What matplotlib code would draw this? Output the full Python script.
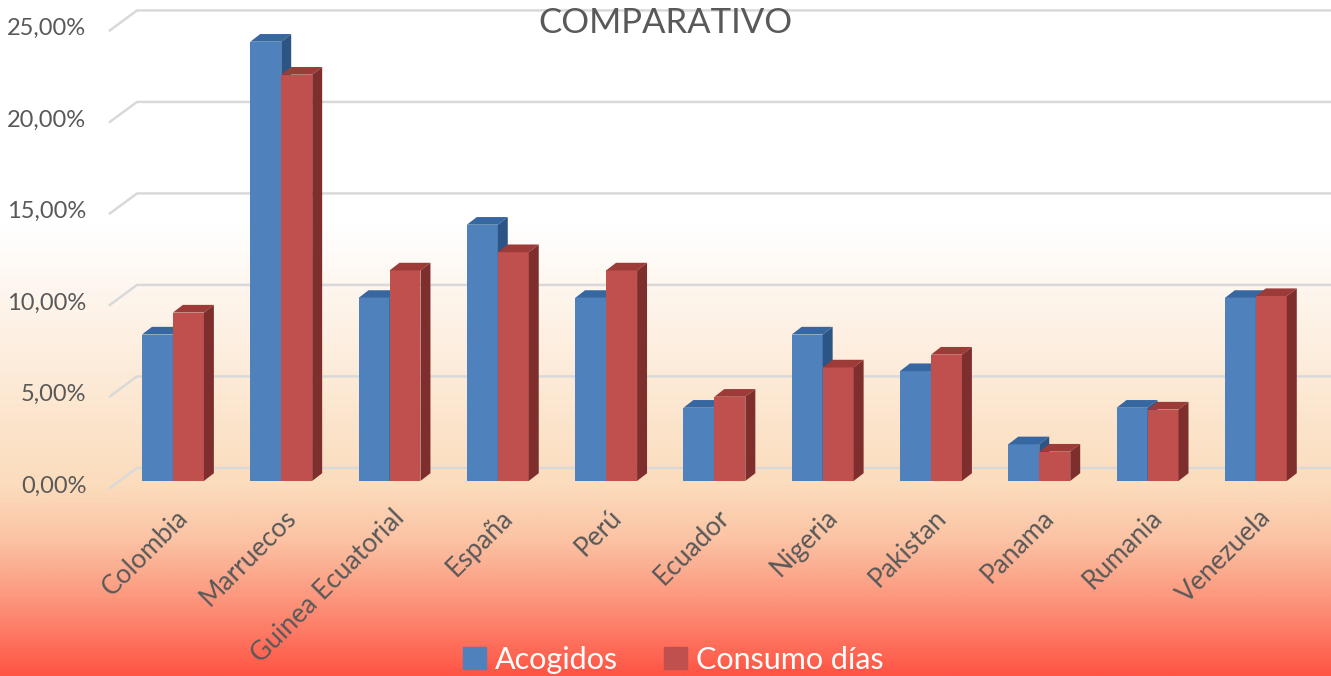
import numpy as np
import matplotlib.pyplot as plt
from matplotlib.patches import Polygon, Patch
from matplotlib.colors import LinearSegmentedColormap

paises = ['Colombia', 'Marruecos', 'Guinea Ecuatorial', 'España', 'Perú', 'Ecuador',
          'Nigeria', 'Pakistan', 'Panama', 'Rumania', 'Venezuela']
acogidos = [8.0, 24.0, 10.0, 14.0, 10.0, 4.0, 8.0, 6.0, 2.0, 4.0, 10.0]
consumo = [9.2, 22.2, 11.5, 12.5, 11.5, 4.6, 6.2, 6.9, 1.6, 3.9, 10.1]
yticks = [0, 5, 10, 15, 20, 25]
ylabels = ['0,00%', '5,00%', '10,00%', '15,00%', '20,00%', '25,00%']
series = ['Acogidos', 'Consumo días']

plt.rcParams['font.family'] = ['Lato', 'DejaVu Sans']
txt = '#595959'

fig = plt.figure(figsize=(13.31, 6.76), dpi=100)

# fondo degradado
bg = fig.add_axes([0, 0, 1, 1])
bg.axis('off')
cmap = LinearSegmentedColormap.from_list('bg', [
    (0.0, '#ffffff'), (0.33, '#ffffff'), (0.72, '#fbdcbc'),
    (0.80, '#fbc3a4'), (0.90, '#fd9077'), (1.0, '#ff5545')])
grad = np.linspace(0, 1, 400).reshape(-1, 1)
bg.imshow(grad, aspect='auto', cmap=cmap, extent=[0, 1, 0, 1], origin='upper')
bg.set_xlim(0, 1)
bg.set_ylim(0, 1)

ax = fig.add_axes([0, 0, 1, 1])
ax.patch.set_alpha(0)
ax.axis('off')
ax.set_xlim(-1.597, 10.694)
ax.set_ylim(-10.66, 26.28)

# rejilla en perspectiva
gx_front, gx_back = -0.582, -0.332
for v, lab in zip(yticks, ylabels):
    ax.plot([gx_front, gx_back, 10.8], [v - 0.38, v + 0.71, v + 0.71],
            color='#d9d9d9', lw=1.8, zorder=1)
    ax.text(-0.8, v - 0.28, lab, ha='right', va='center', fontsize=17, color=txt)

w = 0.286
dx, dy = 0.092, 0.42
colores = [('#4f81bd', '#3767a0', '#2c5586'), ('#c0504d', '#9c3b38', '#7e2f2d')]

def barra3d(x0, h, cols, z):
    front, top, side = cols
    ax.bar(x0, h, width=w, align='edge', color=front, zorder=z)
    ax.add_patch(Polygon([(x0, h), (x0 + w, h), (x0 + w + dx, h + dy), (x0 + dx, h + dy)],
                         closed=True, color=top, zorder=z, lw=0))
    ax.add_patch(Polygon([(x0 + w, 0), (x0 + w + dx, dy), (x0 + w + dx, h + dy), (x0 + w, h)],
                         closed=True, color=side, zorder=z, lw=0))

x = np.arange(len(paises))
for i in x:
    barra3d(i - w, acogidos[i], colores[0], 3)
    barra3d(i, consumo[i], colores[1], 4)
    ax.text(i + 0.02, -1.3, paises[i], rotation=45, rotation_mode='anchor',
            ha='right', va='top', fontsize=19, color=txt)

ax.text(4.55, 25.0, 'COMPARATIVO', ha='center', va='center', fontsize=25, color=txt)

handles = [Patch(color=colores[0][0]), Patch(color=colores[1][0])]
fig.legend(handles, series, loc='center', bbox_to_anchor=(0.506, 0.024), ncol=2,
           frameon=False, fontsize=22, labelcolor='white', handlelength=0.75,
           handleheight=0.75, handletextpad=0.3, columnspacing=1.5,
           borderpad=0)

fig.savefig('out.png', dpi=100)
